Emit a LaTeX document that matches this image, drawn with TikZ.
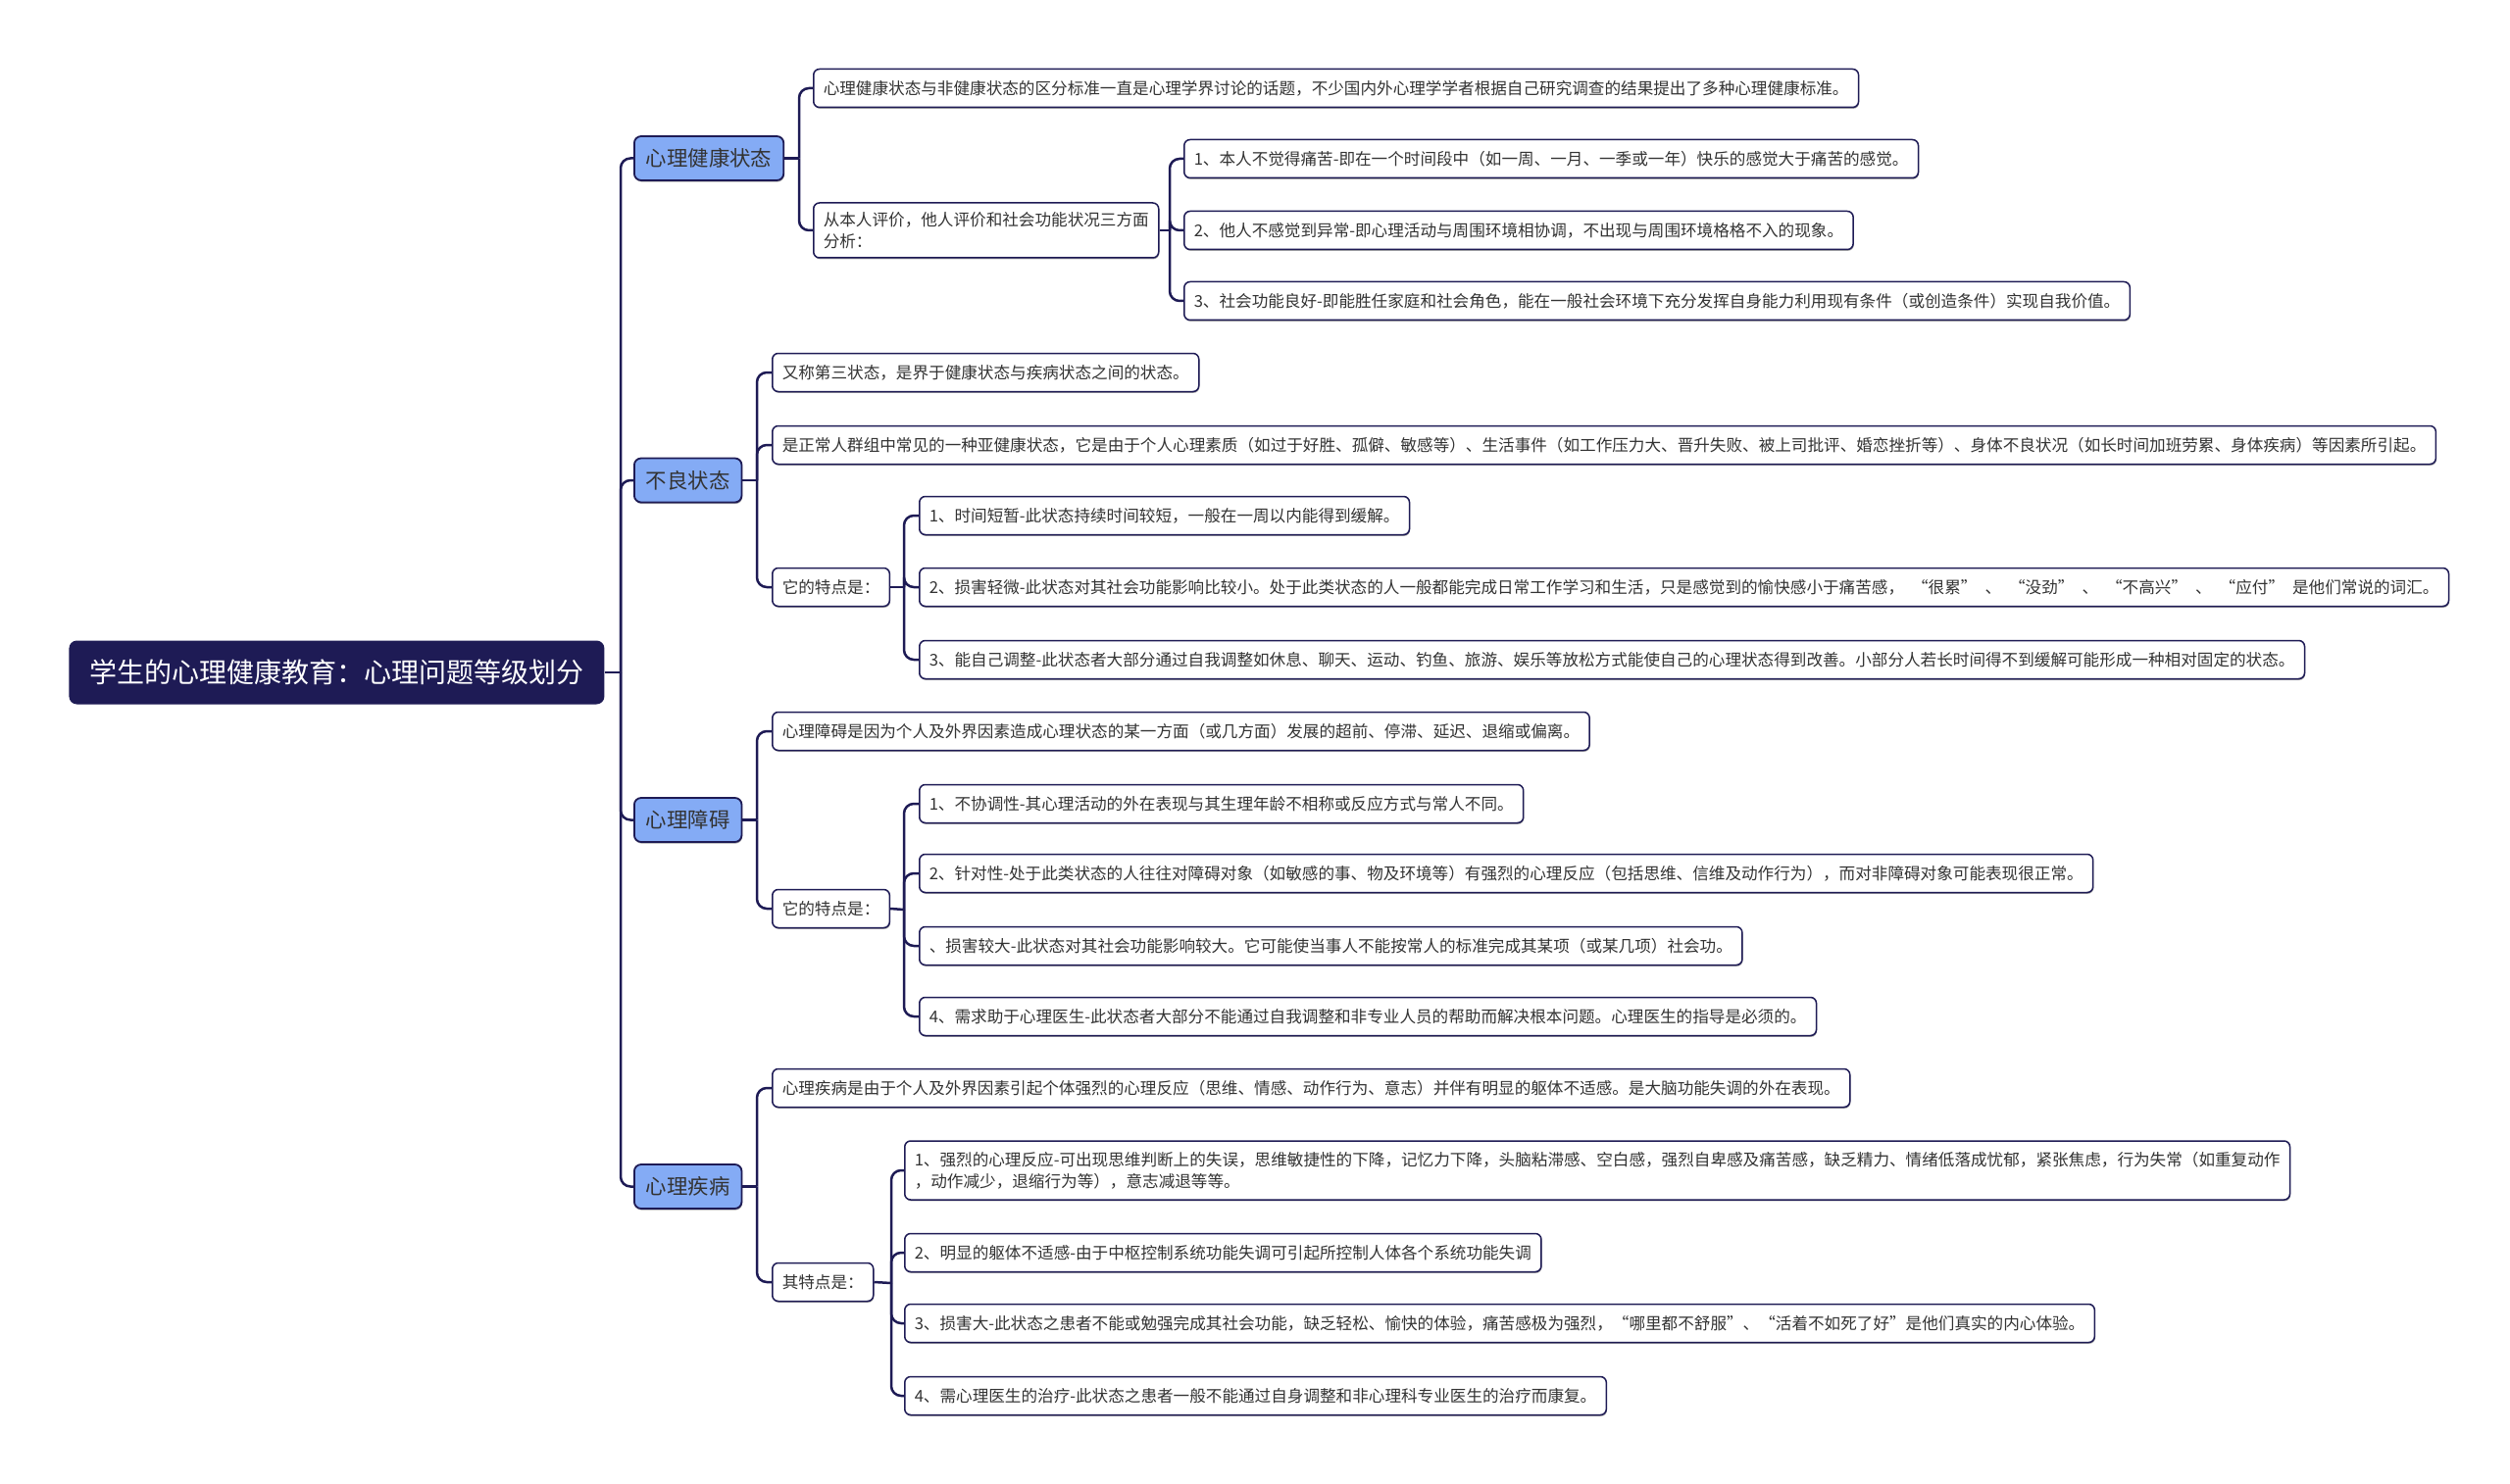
\documentclass[tikz,border=0pt]{standalone}
\usepackage{fontspec}
\setmainfont{Noto Sans CJK SC}
\usetikzlibrary{shadows}
\definecolor{navy}{HTML}{1E1B55}
\definecolor{bluef}{HTML}{84ABF5}
\definecolor{txt}{HTML}{333333}
\newcommand\leaffont{\fontsize{8.3}{11.2}\selectfont}
\newcommand\lvlfont{\fontsize{10.7}{13}\selectfont}
\newcommand\rootfont{\fontsize{14}{17}\selectfont}
\newcommand\qg{\hspace{4pt}}
\tikzset{
  leaf/.style={draw=navy, line width=0.75pt, fill=white, rounded corners=3pt,
    font=\leaffont, text=txt, anchor=west, inner xsep=5pt, inner ysep=2pt,
    minimum height=19.5pt, align=left,
    drop shadow={shadow xshift=0.3pt, shadow yshift=-0.7pt, opacity=0.35, fill=black}},
  lvl/.style={draw=navy, line width=0.9pt, fill=bluef, rounded corners=3.5pt,
    font=\lvlfont, text=txt, anchor=west, inner xsep=6pt, minimum height=22.5pt,
    drop shadow={shadow xshift=0.3pt, shadow yshift=-0.8pt, opacity=0.35, fill=black}},
  rootn/.style={fill=navy, rounded corners=4pt, font=\rootfont, text=white,
    anchor=west, inner xsep=10.5pt, minimum height=32.5pt},
  conn/.style={draw=navy, line width=1.25pt, rounded corners=5pt},
}
\begin{document}
\begin{tikzpicture}[x=0.5pt, y=-0.5pt]
\useasboundingbox[fill=white] (0,0) rectangle (2560,1514);

% root and level 1
\node[rootn] (root) at (70,686) {学生的心理健康教育：心理问题等级划分};
\node[lvl] (A) at (646,161.5) {心理健康状态};
\node[lvl] (B) at (646,490) {不良状态};
\node[lvl] (C) at (646,836.5) {心理障碍};
\node[lvl] (D) at (646,1210.5) {心理疾病};

% level 2 and 3
\node[leaf] (A1) at (829,90) {心理健康状态与非健康状态的区分标准一直是心理学界讨论的话题，不少国内外心理学学者根据自己研究调查的结果提出了多种心理健康标准。};
\node[leaf, minimum height=28pt] (A2) at (829,235) {从本人评价，他人评价和社会功能状况三方面\\分析：};
\node[leaf] (A2a) at (1207,162) {1、本人不觉得痛苦-即在一个时间段中（如一周、一月、一季或一年）快乐的感觉大于痛苦的感觉。};
\node[leaf] (A2b) at (1207,235) {2、他人不感觉到异常-即心理活动与周围环境相协调，不出现与周围环境格格不入的现象。};
\node[leaf] (A2c) at (1207,307) {3、社会功能良好-即能胜任家庭和社会角色，能在一般社会环境下充分发挥自身能力利用现有条件（或创造条件）实现自我价值。};

\node[leaf] (B1) at (787,380) {又称第三状态，是界于健康状态与疾病状态之间的状态。};
\node[leaf] (B2) at (787,454) {是正常人群组中常见的一种亚健康状态，它是由于个人心理素质（如过于好胜、孤僻、敏感等）、生活事件（如工作压力大、晋升失败、被上司批评、婚恋挫折等）、身体不良状况（如长时间加班劳累、身体疾病）等因素所引起。};
\node[leaf] (B3) at (787,599) {它的特点是：};
\node[leaf] (B3a) at (937,526) {1、时间短暂-此状态持续时间较短，一般在一周以内能得到缓解。};
\node[leaf] (B3b) at (937,599) {2、损害轻微-此状态对其社会功能影响比较小。处于此类状态的人一般都能完成日常工作学习和生活，只是感觉到的愉快感小于痛苦感，\qg{}“很累”\qg{}、\qg{}“没劲”\qg{}、\qg{}“不高兴”\qg{}、\qg{}“应付”\qg{}是他们常说的词汇。};
\node[leaf] (B3c) at (937,673) {3、能自己调整-此状态者大部分通过自我调整如休息、聊天、运动、钓鱼、旅游、娱乐等放松方式能使自己的心理状态得到改善。小部分人若长时间得不到缓解可能形成一种相对固定的状态。};

\node[leaf] (C1) at (787,746) {心理障碍是因为个人及外界因素造成心理状态的某一方面（或几方面）发展的超前、停滞、延迟、退缩或偏离。};
\node[leaf] (C2) at (787,927) {它的特点是：};
\node[leaf] (C2a) at (937,820) {1、不协调性-其心理活动的外在表现与其生理年龄不相称或反应方式与常人不同。};
\node[leaf] (C2b) at (937,891) {2、针对性-处于此类状态的人往往对障碍对象（如敏感的事、物及环境等）有强烈的心理反应（包括思维、信维及动作行为），而对非障碍对象可能表现很正常。};
\node[leaf] (C2c) at (937,965) {、损害较大-此状态对其社会功能影响较大。它可能使当事人不能按常人的标准完成其某项（或某几项）社会功。};
\node[leaf] (C2d) at (937,1037) {4、需求助于心理医生-此状态者大部分不能通过自我调整和非专业人员的帮助而解决根本问题。心理医生的指导是必须的。};

\node[leaf] (D1) at (787,1110) {心理疾病是由于个人及外界因素引起个体强烈的心理反应（思维、情感、动作行为、意志）并伴有明显的躯体不适感。是大脑功能失调的外在表现。};
\node[leaf] (D2) at (787,1308) {其特点是：};
\node[leaf, minimum height=30pt] (D2a) at (922,1194) {1、强烈的心理反应-可出现思维判断上的失误，思维敏捷性的下降，记忆力下降，头脑粘滞感、空白感，强烈自卑感及痛苦感，缺乏精力、情绪低落成忧郁，紧张焦虑，行为失常（如重复动作\\，动作减少，退缩行为等），意志减退等等。};
\node[leaf] (D2b) at (922,1278) {2、明显的躯体不适感-由于中枢控制系统功能失调可引起所控制人体各个系统功能失调};
\node[leaf] (D2c) at (922,1350) {3、损害大-此状态之患者不能或勉强完成其社会功能，缺乏轻松、愉快的体验，痛苦感极为强烈，“哪里都不舒服”、“活着不如死了好”是他们真实的内心体验。};
\node[leaf] (D2d) at (922,1424) {4、需心理医生的治疗-此状态之患者一般不能通过自身调整和非心理科专业医生的治疗而康复。};

% junctions
\coordinate (j0) at (633,686);
\coordinate (jA) at (815,161.5);
\coordinate (jA2) at (1193,235);
\coordinate (jB) at (772,490);
\coordinate (jB3) at (922,599);
\coordinate (jC) at (772,836.5);
\coordinate (jC2) at (922,928);
\coordinate (jD) at (772,1210.5);
\coordinate (jD2) at (909,1309);

% connectors
\draw[conn] (root.east) -- (j0);
\foreach \c in {A,B,C,D} \draw[conn] (j0) |- (\c.west);
\draw[conn] (A.east) -- (jA);
\foreach \c in {A1,A2} \draw[conn] (jA) |- (\c.west);
\draw[conn] (A2.east) -- (jA2);
\foreach \c in {A2a,A2b,A2c} \draw[conn] (jA2) |- (\c.west);
\draw[conn] (B.east) -- (jB);
\foreach \c in {B1,B2,B3} \draw[conn] (jB) |- (\c.west);
\draw[conn] (B3.east) -- (jB3);
\foreach \c in {B3a,B3b,B3c} \draw[conn] (jB3) |- (\c.west);
\draw[conn] (C.east) -- (jC);
\foreach \c in {C1,C2} \draw[conn] (jC) |- (\c.west);
\draw[conn] (C2.east) -- (jC2);
\foreach \c in {C2a,C2b,C2c,C2d} \draw[conn] (jC2) |- (\c.west);
\draw[conn] (D.east) -- (jD);
\foreach \c in {D1,D2} \draw[conn] (jD) |- (\c.west);
\draw[conn] (D2.east) -- (jD2);
\foreach \c in {D2a,D2b,D2c,D2d} \draw[conn] (jD2) |- (\c.west);
\end{tikzpicture}
\end{document}
